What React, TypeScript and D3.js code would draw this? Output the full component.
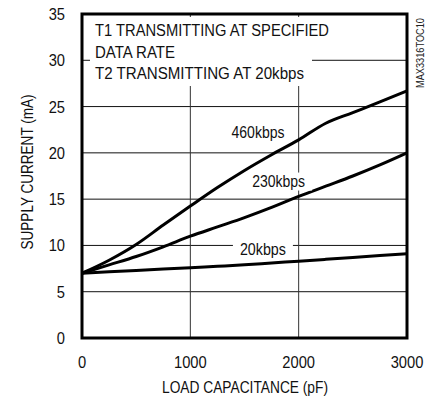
import React from "react";
import * as d3 from "d3";

// load capacitance (pF) vs supply current (mA)
const loads = [0, 250, 500, 750, 1000, 1250, 1500, 1750, 2000, 2250, 2500, 2750, 3000];
const current460 = [7, 8.4, 10.1, 12.2, 14.25, 16.25, 18.1, 19.8, 21.4, 23.2, 24.35, 25.5, 26.7];
const current230 = [7, 7.9, 8.8, 9.85, 11.0, 12.0, 13.0, 14.1, 15.3, 16.4, 17.5, 18.7, 20.0];
const current20 = [7, 7.15, 7.3, 7.45, 7.6, 7.75, 7.9, 8.1, 8.3, 8.5, 8.7, 8.9, 9.1];

const xTicks = [0, 1000, 2000, 3000];
const yTicks = [0, 5, 10, 15, 20, 25, 30, 35];

const series = [
  { name: "460kbps", values: current460, labelX: 1625, labelY: 22.2, len: 53 },
  { name: "230kbps", values: current230, labelX: 1815, labelY: 16.9, len: 53 },
  { name: "20kbps", values: current20, labelX: 1670, labelY: 9.56, len: 46 },
];

const legendLines = ["T1 TRANSMITTING AT SPECIFIED", "DATA RATE", "T2 TRANSMITTING AT 20kbps"];
const legendLens = [234, 80, 209];

const W = 433;
const H = 400;
const left = 82;
const right = 407;
const top = 14;
const bottom = 338;
const fs = 16;
const font = "'Liberation Sans', Arial, sans-serif";

// condensed text: squeezed horizontally, or stretched to a fixed length
function Txt(props: { x: number; y: number; anchor?: string; len?: number; children: React.ReactNode }) {
  const { x, y, anchor = "start", len, children } = props;
  if (len) {
    return (
      <text x={x} y={y} fontSize={fs} textAnchor={anchor} fill="#111" textLength={len} lengthAdjust="spacingAndGlyphs">
        {children}
      </text>
    );
  }
  return (
    <text transform={`translate(${x},${y}) scale(0.92,1)`} fontSize={fs} textAnchor={anchor} fill="#111">
      {children}
    </text>
  );
}

export default function App() {
  const x = d3.scaleLinear().domain([0, 3000]).range([left, right]);
  const y = d3.scaleLinear().domain([0, 35]).range([bottom, top]);

  const line = d3
    .line<number>()
    .x((_, i) => x(loads[i]))
    .y((d) => y(d))
    .curve(d3.curveMonotoneX);

  return (
    <svg
      width={W}
      height={H}
      style={{ position: "absolute", left: 0, top: 0, background: "#fff" }}
      fontFamily={font}
    >
      {/* grid */}
      {yTicks.slice(1, -1).map((t) => (
        <line key={"h" + t} x1={left} x2={right} y1={y(t)} y2={y(t)} stroke="#111" strokeWidth={1} />
      ))}
      {xTicks.slice(1, -1).map((t) => (
        <line key={"v" + t} x1={x(t)} x2={x(t)} y1={top} y2={bottom} stroke="#333" strokeWidth={1} />
      ))}

      {/* legend box hides grid */}
      <rect x={90} y={17} width={222} height={69} fill="#fff" />
      {legendLines.map((s, i) => (
        <Txt key={s} x={95} y={36 + i * 21.5} len={legendLens[i]}>
          {s}
        </Txt>
      ))}

      {/* series */}
      {series.map((s) => (
        <path key={s.name} d={line(s.values) ?? ""} fill="none" stroke="#000" strokeWidth={3} strokeLinejoin="round" />
      ))}

      {/* series labels with white knockout */}
      {series.map((s) => {
        const cx = x(s.labelX);
        const cy = y(s.labelY);
        return (
          <g key={"l" + s.name}>
            <rect x={cx - s.len / 2 - 7} y={cy - 9} width={s.len + 14} height={18} fill="#fff" />
            <Txt x={cx} y={cy + 5.5} anchor="middle" len={s.len}>
              {s.name}
            </Txt>
          </g>
        );
      })}

      {/* frame */}
      <rect x={left} y={top} width={right - left} height={bottom - top} fill="none" stroke="#000" strokeWidth={3} />

      {/* y ticks */}
      {yTicks.map((t) => (
        <Txt key={"yt" + t} x={65} y={y(t) + 6} anchor="end">
          {t}
        </Txt>
      ))}
      {/* x ticks */}
      {xTicks.map((t) => (
        <Txt key={"xt" + t} x={x(t)} y={368} anchor="middle">
          {t}
        </Txt>
      ))}

      <Txt x={245} y={393} anchor="middle" len={166}>
        LOAD CAPACITANCE (pF)
      </Txt>
      <g transform="translate(33, 172) rotate(-90)">
        <Txt x={0} y={0} anchor="middle" len={155}>
          SUPPLY CURRENT (mA)
        </Txt>
      </g>
      <text
        transform="translate(424, 53) rotate(-90)"
        fontSize={10}
        textAnchor="middle"
        fill="#222"
        textLength={70}
        lengthAdjust="spacingAndGlyphs"
      >
        MAX3316TOC10
      </text>
    </svg>
  );
}
